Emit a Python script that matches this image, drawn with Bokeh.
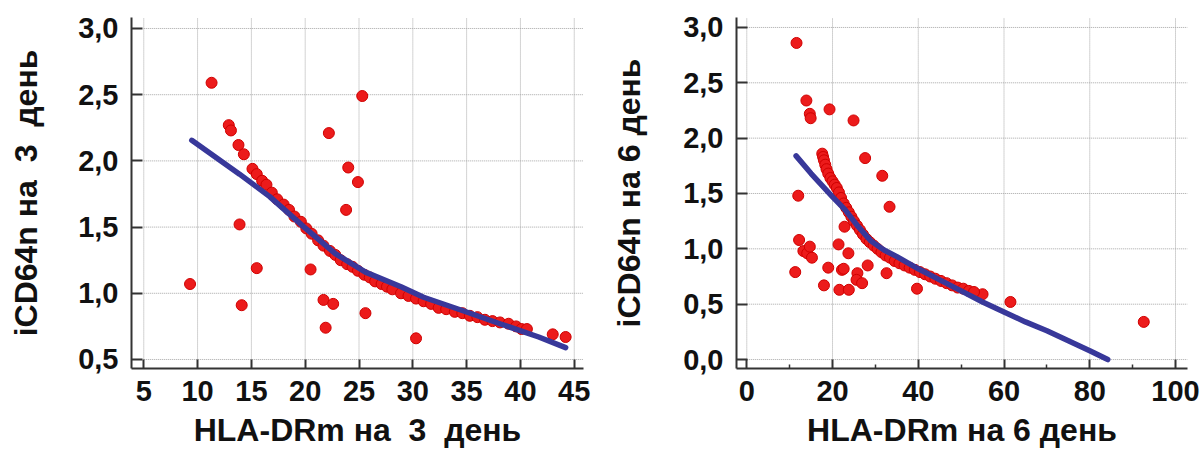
from bokeh.plotting import figure
from bokeh.layouts import row
from bokeh.models import FixedTicker, Range1d, CustomJSTickFormatter
from bokeh.embed import file_html
from bokeh.resources import INLINE

# ---------------- Left panel: day 3 ----------------
d3_x_ticks = [5, 10, 15, 20, 25, 30, 35, 40, 45]
d3_y_ticks = [0.5, 1.0, 1.5, 2.0, 2.5, 3.0]

d3_pts_x = [9.3, 11.3, 12.9, 13.1, 13.8, 14.3, 13.9, 14.1, 15.5, 20.5, 21.7, 21.9,
            22.2, 22.6, 23.8, 24.0, 24.9, 25.3, 25.6, 30.3, 43.0, 44.2,
            15.1, 15.5, 16.0, 16.4, 16.9, 17.4, 18.0, 18.5, 19.0, 19.6, 20.1, 20.6,
            21.2, 21.7, 22.3, 22.8, 23.3, 23.9, 24.4, 24.9, 25.5, 26.0, 26.5, 27.1,
            27.6, 28.1, 28.9, 29.6, 30.3, 31.0, 31.7, 32.4, 33.1, 33.9, 34.6, 35.3,
            36.0, 36.7, 37.4, 38.1, 38.9, 39.6, 40.1, 40.6]
d3_pts_y = [1.07, 2.59, 2.27, 2.23, 2.12, 2.05, 1.52, 0.91, 1.19, 1.18, 0.95, 0.74,
            2.21, 0.92, 1.63, 1.95, 1.84, 2.49, 0.85, 0.66, 0.69, 0.67,
            1.94, 1.90, 1.85, 1.82, 1.76, 1.71, 1.67, 1.63, 1.58, 1.54, 1.49, 1.45,
            1.40, 1.36, 1.32, 1.29, 1.25, 1.22, 1.20, 1.17, 1.14, 1.12, 1.09, 1.07,
            1.05, 1.03, 1.00, 0.98, 0.96, 0.94, 0.92, 0.89, 0.88, 0.86, 0.85, 0.83,
            0.82, 0.80, 0.79, 0.78, 0.77, 0.75, 0.73, 0.73]

d3_fit_x = [9.46, 13.9, 16.7, 19.9, 22.8, 25.6, 28.9, 31.0, 34.6, 38.1, 41.7, 44.2]
d3_fit_y = [2.155, 1.90, 1.73, 1.50, 1.30, 1.16, 1.05, 0.97, 0.87, 0.77, 0.67, 0.59]

# ---------------- Right panel: day 6 ----------------
d6_x_ticks = [0, 20, 40, 60, 80, 100]
d6_x_minor = [10, 30, 50, 70, 90]
d6_y_ticks = [0.0, 0.5, 1.0, 1.5, 2.0, 2.5, 3.0]

d6_pts_x = [11.6, 13.9, 14.7, 14.9, 19.3, 24.9, 27.6, 31.6, 33.3, 12.0, 12.2, 13.2,
            14.1, 14.7, 15.2, 11.3, 19.0, 18.0, 21.4, 22.8, 23.7, 22.2, 22.6, 21.6,
            23.8, 25.8, 25.6, 26.9, 28.2, 32.6, 39.7, 55.0, 61.5, 92.6,
            17.6, 17.8, 18.0, 18.3, 18.6, 19.0, 19.5, 20.0, 20.5, 21.0, 21.5, 22.0,
            22.6, 23.2, 23.8, 24.4, 25.0, 25.7, 26.4, 27.1, 27.9, 28.7, 29.6, 30.5,
            31.4, 32.4, 33.4, 34.5, 35.6, 36.8, 38.0, 39.2, 40.4, 41.6, 42.8, 44.0,
            45.3, 46.6, 47.9, 49.2, 50.5, 51.8, 53.0]
d6_pts_y = [2.86, 2.34, 2.22, 2.18, 2.26, 2.16, 1.82, 1.66, 1.38, 1.48, 1.08, 0.98,
            0.96, 1.02, 0.92, 0.79, 0.83, 0.67, 1.04, 1.20, 0.96, 0.81, 0.82, 0.63,
            0.63, 0.78, 0.72, 0.69, 0.85, 0.78, 0.64, 0.59, 0.52, 0.34,
            1.86, 1.83, 1.80, 1.76, 1.72, 1.68, 1.64, 1.61, 1.58, 1.55, 1.51, 1.46,
            1.41, 1.37, 1.33, 1.29, 1.25, 1.21, 1.17, 1.13, 1.09, 1.06, 1.03, 1.00,
            0.97, 0.94, 0.92, 0.89, 0.87, 0.85, 0.83, 0.81, 0.79, 0.77, 0.75, 0.73,
            0.71, 0.69, 0.67, 0.65, 0.64, 0.62, 0.61]

d6_fit_x = [11.5, 15, 20, 23, 26, 29, 32, 35, 40, 45, 50, 55, 60, 65, 70, 75, 80, 84.2]
d6_fit_y = [1.84, 1.68, 1.47, 1.35, 1.20, 1.07, 0.99, 0.93, 0.82, 0.72, 0.62, 0.52,
            0.43, 0.34, 0.26, 0.17, 0.08, 0.0]

FONT = "Liberation Sans"
RED_FILL = "#ec1b1b"
RED_LINE = "#d00000"
BLUE = "#38389a"
AX = "#333333"
GRID = "#a6a6a6"
NB = "\u00a0"


def make_panel(xr, yr, xt, xminor, yt, pts_x, pts_y, fit_x, fit_y, xlabel, ylabel,
               width, height, borders, ytitle_standoff):
    bl, br, bt, bb = borders
    p = figure(width=width, height=height, x_range=Range1d(*xr), y_range=Range1d(*yr),
               output_backend="svg", toolbar_location=None,
               min_border_left=bl, min_border_right=br, min_border_top=bt,
               min_border_bottom=bb)
    p.xgrid.visible = False
    p.ygrid.visible = False
    p.outline_line_color = None
    p.background_fill_color = "white"
    p.border_fill_color = "white"

    # dotted grid, starting at the first tick of each axis
    n = len(xt)
    p.segment(x0=xt, y0=[yt[0]] * n, x1=xt, y1=[yr[1]] * n,
              line_color=GRID, line_width=1, line_dash="1 1")
    m = len(yt)
    p.segment(x0=[xt[0]] * m, y0=yt, x1=[xr[1]] * m, y1=yt,
              line_color=GRID, line_width=1, line_dash="1 1")

    p.scatter(pts_x, pts_y, size=11, fill_color=RED_FILL, line_color=RED_LINE,
              line_width=1)
    p.line(fit_x, fit_y, line_color=BLUE, line_width=5.5, line_cap="round")

    for ax in (p.xaxis[0], p.yaxis[0]):
        ax.axis_line_color = AX
        ax.axis_line_width = 2
        ax.major_tick_line_color = AX
        ax.major_tick_line_width = 2
        ax.minor_tick_line_color = AX
        ax.minor_tick_line_width = 1.5
        ax.major_tick_out = 0
        ax.minor_tick_out = 0
        ax.major_label_text_font = FONT
        ax.major_label_text_font_style = "bold"
        ax.major_label_text_font_size = "29px"
        ax.major_label_text_color = "#111111"
        ax.axis_label_text_font = FONT
        ax.axis_label_text_font_style = "bold"
        ax.axis_label_text_font_size = "32px"
        ax.axis_label_text_color = "#111111"

    p.xaxis.ticker = FixedTicker(ticks=xt, minor_ticks=xminor)
    p.yaxis.ticker = FixedTicker(ticks=yt, minor_ticks=[])
    p.yaxis.formatter = CustomJSTickFormatter(
        code="return tick.toFixed(1).replace('.', ',');")
    p.xaxis.major_tick_in = 9
    p.xaxis.minor_tick_in = 4
    p.yaxis.major_tick_in = 11
    p.yaxis.minor_tick_in = 0
    p.xaxis.major_label_standoff = 12
    p.yaxis.major_label_standoff = 13
    p.xaxis.axis_label_standoff = 8
    p.yaxis.axis_label_standoff = ytitle_standoff
    p.xaxis.axis_label = xlabel
    p.yaxis.axis_label = ylabel
    return p


left = make_panel((3.86, 45.86), (0.432, 3.083), d3_x_ticks, [], d3_y_ticks,
                  d3_pts_x, d3_pts_y, d3_fit_x, d3_fit_y,
                  "HLA-DRm на" + NB + NB + "3" + NB + NB + "день",
                  "iCD64n на" + NB + NB + "3" + NB + NB + "день",
                  600, 458, (131, 17, 17, 90), 31)
right = make_panel((-2.4, 102.8), (-0.081, 3.09), d6_x_ticks, d6_x_minor, d6_y_ticks,
                   d6_pts_x, d6_pts_y, d6_fit_x, d6_fit_y,
                   "HLA-DRm на 6 день", "iCD64n на 6 день",
                   600, 458, (136, 13, 17, 90), 33)

layout = row(left, right)
open("out.html", "w").write(file_html(layout, INLINE))
